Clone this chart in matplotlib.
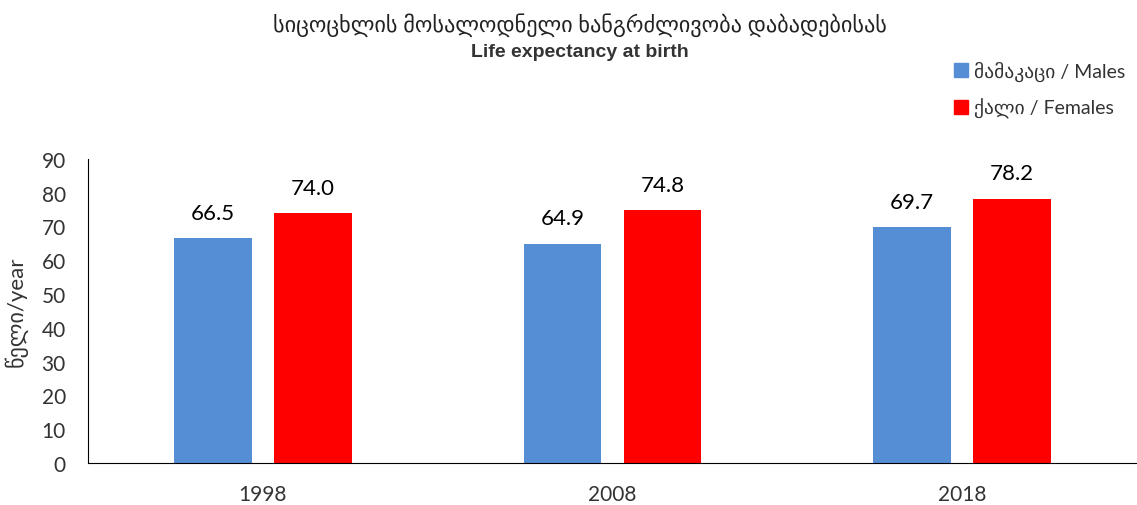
import numpy as np
import matplotlib
matplotlib.use("Agg")
import matplotlib.pyplot as plt
from matplotlib.patches import Patch

plt.rcParams['font.family'] = ['Lato', 'DejaVu Sans']

years = ["1998", "2008", "2018"]
males = [66.5, 64.9, 69.7]
females = [74.0, 74.8, 78.2]
series_names = ["მამაკაცი / Males", "ქალი / Females"]
colors = ["#558ED5", "#FF0000"]

fig = plt.figure(figsize=(11.37, 5.06), dpi=100)
ax = fig.add_axes([0.0774, 0.083, 0.9226, 0.601])

x = np.arange(len(years))
w = 0.223
off = 0.143
b1 = ax.bar(x - off, males, w, color=colors[0])
b2 = ax.bar(x + off, females, w, color=colors[1])

for bars, vals in [(b1, males), (b2, females)]:
    for r, v in zip(bars, vals):
        ax.annotate("%.1f" % v, (r.get_x() + r.get_width() / 2, v),
                    xytext=(0, 14), textcoords="offset points",
                    ha="center", va="baseline", fontsize=16, color="black")

ax.set_xlim(-0.5, 2.5)
ax.set_ylim(0, 90)
ax.set_yticks(range(0, 91, 10))
ax.set_xticks(x)
ax.set_xticklabels(years)
ax.tick_params(axis="both", length=0, labelsize=15, colors="#333333")
ax.tick_params(axis="y", pad=16)
ax.tick_params(axis="x", pad=15)
for s in ["top", "right"]:
    ax.spines[s].set_visible(False)
ax.spines["left"].set_color("black")
ax.spines["bottom"].set_color("black")
ax.set_ylabel("წელი/year", fontsize=16, color="#333333", labelpad=10)

fig.text(0.51, 0.95, "სიცოცხლის მოსალოდნელი ხანგრძლივობა დაბადებისას",
         ha="center", va="center", fontsize=16, color="#222222")
fig.text(0.51, 0.897, "Life expectancy at birth", ha="center", va="center",
         fontsize=14, fontweight="bold", color="#333333", family="Liberation Sans")

handles = [Patch(color=colors[0]), Patch(color=colors[1])]
fig.legend(handles, series_names, loc="upper left", bbox_to_anchor=(0.824, 0.912),
           frameon=False, fontsize=14, handlelength=0.7, handleheight=0.7,
           handletextpad=0.3, labelspacing=0.85, labelcolor="#333333")

fig.savefig("out.png", dpi=100)
